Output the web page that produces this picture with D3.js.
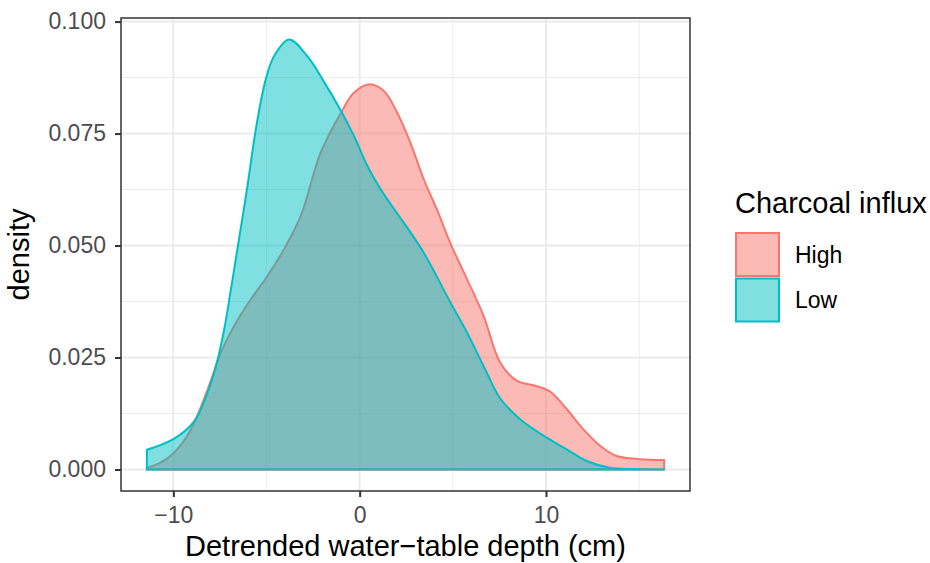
<!DOCTYPE html>
<html>
<head>
<meta charset="utf-8">
<script src="https://cdn.jsdelivr.net/npm/d3@7"></script>
<style>
  html, body { margin: 0; padding: 0; background: #ffffff; }
  svg { display: block; font-family: "Liberation Sans", Arial, Helvetica, sans-serif; }
</style>
</head>
<body>
<svg id="chart" width="930" height="563"></svg>
<script>
// Kernel density estimates of detrended water-table depth, by charcoal influx class
const groups = ["High", "Low"];
const groupColors = ["#F8766D", "#00BFC4"];

const highDepth = [-11.42, -10.66, -9.95, -9.05, -8.16, -7.45, -6.73, -5.84, -4.95, -4.06, -3.16,
  -2.09, -1.02, -0.31, 0.53, 1.30, 2.01, 2.72, 3.44, 4.15, 4.87, 5.76, 6.65, 7.54, 8.44, 9.33,
  10.22, 11.11, 12.00, 12.90, 13.79, 15.04, 16.34];
const highDensity = [0.0004, 0.0016, 0.0038, 0.0090, 0.0179, 0.0261, 0.0321, 0.0380, 0.0432, 0.0492, 0.0566,
  0.0708, 0.0795, 0.0841, 0.0860, 0.0845, 0.0797, 0.0730, 0.0648, 0.0580, 0.0505, 0.0425, 0.0343, 0.0239, 0.0198, 0.0188,
  0.0174, 0.0135, 0.0090, 0.0053, 0.0030, 0.0023, 0.0021];

const lowDepth = [-11.42, -9.95, -8.87, -8.16, -7.71, -7.27, -6.91, -6.55, -6.02, -5.57, -5.04, -4.59,
  -3.79, -2.81, -1.92, -1.02, -0.31, 0.41, 1.12, 2.01, 2.72, 3.44, 4.15, 4.87, 5.76, 6.65, 7.54,
  8.61, 10.04, 11.11, 12.18, 13.43, 14.68, 16.34];
const lowDensity = [0.0044, 0.0069, 0.0108, 0.0172, 0.0231, 0.0313, 0.0402, 0.0495, 0.0633, 0.0760, 0.0871, 0.0923,
  0.0960, 0.0923, 0.0866, 0.0802, 0.0745, 0.0678, 0.0626, 0.0572, 0.0530, 0.0484, 0.0430, 0.0373, 0.0306, 0.0231, 0.0159,
  0.0112, 0.0071, 0.0045, 0.0019, 0.0004, 0.0001, 0.0000];

const xTicks = [-10, 0, 10];
const xMinor = [-5, 5, 15];
const yTicks = [0, 0.025, 0.05, 0.075, 0.1];
const yMinor = [0.0125, 0.0375, 0.0625, 0.0875];

const xTitle = "Detrended water\u2212table depth (cm)";
const yTitle = "density";
const legendTitle = "Charcoal influx";

const series = [
  { name: groups[0], color: groupColors[0], values: highDepth.map((d, i) => [d, highDensity[i]]) },
  { name: groups[1], color: groupColors[1], values: lowDepth.map((d, i) => [d, lowDensity[i]]) }
];

const panel = { left: 121, right: 690, top: 18, bottom: 491 };

// data extent with 5% expansion, as in the default continuous scales
const allX = highDepth.concat(lowDepth);
const xMin = d3.min(allX), xMax = d3.max(allX);
const xPad = (xMax - xMin) * 0.05;
const yMax = d3.max(highDensity.concat(lowDensity));
const yPad = yMax * 0.05;

const x = d3.scaleLinear().domain([xMin - xPad, xMax + xPad]).range([panel.left, panel.right]);
const y = d3.scaleLinear().domain([-yPad, yMax + yPad]).range([panel.bottom, panel.top]);

const svg = d3.select("#chart");

// grid
const grid = svg.append("g");
grid.selectAll("line.xminor").data(xMinor).join("line")
  .attr("x1", d => x(d)).attr("x2", d => x(d))
  .attr("y1", panel.top).attr("y2", panel.bottom)
  .attr("stroke", "#EBEBEB").attr("stroke-width", 1);
grid.selectAll("line.yminor").data(yMinor).join("line")
  .attr("x1", panel.left).attr("x2", panel.right)
  .attr("y1", d => y(d)).attr("y2", d => y(d))
  .attr("stroke", "#EBEBEB").attr("stroke-width", 1);
grid.selectAll("line.xmajor").data(xTicks).join("line")
  .attr("x1", d => x(d)).attr("x2", d => x(d))
  .attr("y1", panel.top).attr("y2", panel.bottom)
  .attr("stroke", "#EBEBEB").attr("stroke-width", 2);
grid.selectAll("line.ymajor").data(yTicks).join("line")
  .attr("x1", panel.left).attr("x2", panel.right)
  .attr("y1", d => y(d)).attr("y2", d => y(d))
  .attr("stroke", "#EBEBEB").attr("stroke-width", 2);

// density areas (closed outline, including the baseline)
const area = d3.area()
  .x(d => x(d[0]))
  .y0(y(0))
  .y1(d => y(d[1]))
  .curve(d3.curveCatmullRom.alpha(0.5));

svg.append("clipPath").attr("id", "panel-clip")
  .append("rect")
  .attr("x", panel.left).attr("y", panel.top)
  .attr("width", panel.right - panel.left).attr("height", panel.bottom - panel.top);

svg.append("g").attr("clip-path", "url(#panel-clip)")
  .selectAll("path.density").data(series).join("path")
  .attr("d", d => area(d.values) + "Z")
  .attr("fill", d => d.color)
  .attr("fill-opacity", 0.5)
  .attr("stroke", d => d.color)
  .attr("stroke-width", 2)
  .attr("stroke-linejoin", "round");

// panel border
svg.append("rect")
  .attr("x", panel.left).attr("y", panel.top)
  .attr("width", panel.right - panel.left).attr("height", panel.bottom - panel.top)
  .attr("fill", "none").attr("stroke", "#333333").attr("stroke-width", 1.5);

// axes
const xAxis = d3.axisBottom(x).tickValues(xTicks).tickSize(6).tickPadding(10)
  .tickFormat(d => d3.format("d")(d).replace("-", "\u2212"));
const yAxis = d3.axisLeft(y).tickValues(yTicks).tickSize(6).tickPadding(9)
  .tickFormat(d3.format(".3f"));

const gx = svg.append("g").attr("transform", `translate(0,${panel.bottom})`).call(xAxis);
const gy = svg.append("g").attr("transform", `translate(${panel.left},0)`).call(yAxis);
[gx, gy].forEach(g => {
  g.select(".domain").remove();
  g.selectAll(".tick line").attr("stroke", "#333333").attr("stroke-width", 2);
  g.selectAll(".tick text").attr("fill", "#4D4D4D").style("font-size", "23px")
    .style("font-family", "'Liberation Sans', Arial, sans-serif");
});

// axis titles
svg.append("text")
  .attr("x", (panel.left + panel.right) / 2).attr("y", 556)
  .attr("text-anchor", "middle").attr("fill", "#000")
  .style("font-size", "29px").text(xTitle);
svg.append("text")
  .attr("transform", `translate(29,${(panel.top + panel.bottom) / 2}) rotate(-90)`)
  .attr("text-anchor", "middle").attr("fill", "#000")
  .style("font-size", "29px").text(yTitle);

// legend
const legend = svg.append("g").attr("transform", "translate(735,0)");
legend.append("text").attr("x", 0).attr("y", 213)
  .attr("fill", "#000").style("font-size", "29px").text(legendTitle);
const keys = legend.selectAll("g.key").data(series).join("g")
  .attr("transform", (d, i) => `translate(0,${232 + i * 45.5})`);
keys.append("rect")
  .attr("x", 1).attr("y", 1).attr("width", 43).attr("height", 43)
  .attr("fill", d => d.color).attr("fill-opacity", 0.5)
  .attr("stroke", d => d.color).attr("stroke-width", 2);
keys.append("text")
  .attr("x", 60).attr("y", 22.5).attr("dy", "0.35em")
  .attr("fill", "#000").style("font-size", "23px")
  .text(d => d.name);
</script>
</body>
</html>
